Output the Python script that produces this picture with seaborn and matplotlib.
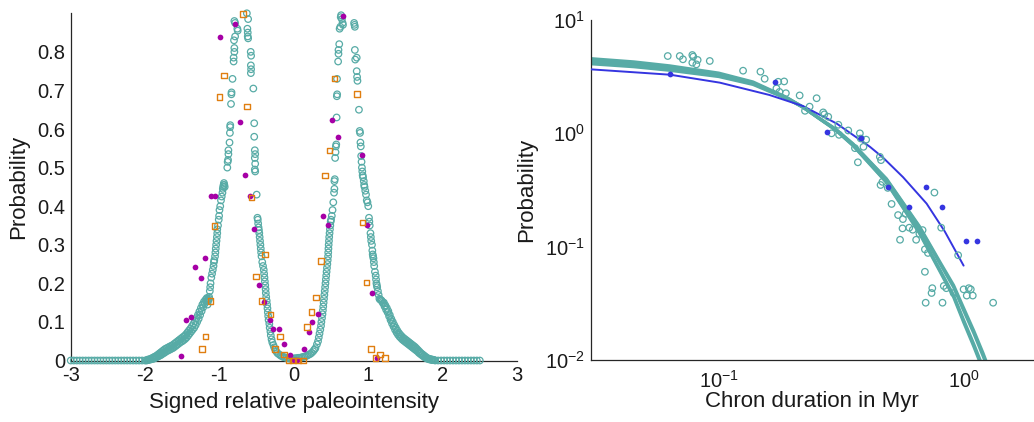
import numpy as np
import matplotlib
matplotlib.use("Agg")
import matplotlib.pyplot as plt
import seaborn as sns
import pandas as pd

# ---------------- Colours ----------------
TEAL = "#57aba6"
PURPLE = "#a600a6"
ORANGE = "#e07e10"
BLUE = "#3535e0"

# ---------------- Left panel data ----------------
tail_left_x = [-3.00, -2.96, -2.92, -2.88, -2.84, -2.80, -2.76, -2.72, -2.68, -2.64, -2.60, -2.56, -2.52,
               -2.48, -2.44, -2.40, -2.36, -2.32, -2.28, -2.24, -2.20, -2.16, -2.12, -2.08, -2.04, -2.00]
tail_left_y = [0.0] * 26

rise_left = [(-1.98, 0.000), (-1.96, 0.001), (-1.94, 0.002), (-1.92, 0.003), (-1.90, 0.004), (-1.88, 0.005),
             (-1.86, 0.007), (-1.84, 0.009), (-1.82, 0.011), (-1.80, 0.013), (-1.78, 0.015), (-1.76, 0.018),
             (-1.74, 0.020), (-1.72, 0.023), (-1.70, 0.025), (-1.68, 0.027), (-1.66, 0.029), (-1.64, 0.031),
             (-1.62, 0.033), (-1.60, 0.036), (-1.58, 0.039), (-1.56, 0.042), (-1.54, 0.045), (-1.52, 0.048),
             (-1.50, 0.050), (-1.48, 0.053), (-1.46, 0.056), (-1.44, 0.060), (-1.42, 0.065), (-1.40, 0.070),
             (-1.38, 0.075), (-1.36, 0.080), (-1.34, 0.085), (-1.32, 0.092), (-1.30, 0.100), (-1.28, 0.108),
             (-1.26, 0.118), (-1.24, 0.128), (-1.22, 0.138), (-1.20, 0.147), (-1.18, 0.153), (-1.16, 0.157),
             (-1.17, 0.160), (-1.15, 0.155), (-1.16, 0.145), (-1.14, 0.160)]

rise_left_b = [(-1.97, 0.002), (-1.95, 0.003), (-1.93, 0.004), (-1.91, 0.006), (-1.89, 0.008), (-1.87, 0.010),
               (-1.85, 0.012), (-1.83, 0.015), (-1.81, 0.018), (-1.79, 0.021), (-1.77, 0.024), (-1.75, 0.027),
               (-1.73, 0.030), (-1.71, 0.032), (-1.69, 0.034), (-1.67, 0.036), (-1.65, 0.038), (-1.63, 0.040),
               (-1.61, 0.043), (-1.59, 0.046), (-1.57, 0.049), (-1.55, 0.052), (-1.53, 0.055), (-1.51, 0.058),
               (-1.49, 0.061), (-1.47, 0.064), (-1.45, 0.068), (-1.43, 0.073), (-1.41, 0.078), (-1.39, 0.083),
               (-1.37, 0.089), (-1.35, 0.095), (-1.33, 0.102), (-1.31, 0.110), (-1.29, 0.118), (-1.27, 0.127),
               (-1.25, 0.136), (-1.23, 0.145), (-1.21, 0.152), (-1.19, 0.157), (-1.17, 0.162)]

peak1_left = [(-1.14, 0.165), (-1.13, 0.18), (-1.125, 0.19), (-1.12, 0.20), (-1.11, 0.215), (-1.10, 0.225),
              (-1.09, 0.235), (-1.08, 0.245), (-1.075, 0.255), (-1.07, 0.26), (-1.06, 0.27), (-1.055, 0.28),
              (-1.05, 0.29), (-1.045, 0.30), (-1.04, 0.31), (-1.035, 0.32), (-1.03, 0.33), (-1.03, 0.34),
              (-1.02, 0.35), (-1.01, 0.365), (-1.005, 0.375), (-1.0, 0.39), (-0.99, 0.40), (-0.98, 0.415),
              (-0.97, 0.425), (-0.96, 0.435), (-0.955, 0.445), (-0.95, 0.45), (-0.945, 0.455), (-0.94, 0.46),
              (-0.935, 0.455), (-0.93, 0.45), (-0.895, 0.50), (-0.89, 0.515), (-0.885, 0.52), (-0.88, 0.535),
              (-0.88, 0.545), (-0.865, 0.565), (-0.86, 0.59), (-0.856, 0.605), (-0.855, 0.61), (-0.845, 0.665),
              (-0.84, 0.69), (-0.838, 0.695), (-0.825, 0.73), (-0.81, 0.775), (-0.81, 0.785), (-0.80, 0.80),
              (-0.80, 0.81), (-0.805, 0.83), (-0.79, 0.84), (-0.755, 0.855), (-0.76, 0.86), (-0.80, 0.88),
              (-0.79, 0.875)]

peak1_right = [(-0.632, 0.90), (-0.615, 0.885), (-0.625, 0.86), (-0.62, 0.85), (-0.62, 0.84), (-0.615, 0.835),
               (-0.58, 0.80), (-0.575, 0.79), (-0.578, 0.765), (-0.575, 0.755), (-0.578, 0.745), (-0.545, 0.705),
               (-0.533, 0.615), (-0.533, 0.58), (-0.525, 0.545), (-0.52, 0.535), (-0.525, 0.525), (-0.52, 0.51),
               (-0.525, 0.495), (-0.52, 0.49), (-0.50, 0.43), (-0.49, 0.37), (-0.485, 0.365), (-0.48, 0.355),
               (-0.475, 0.345), (-0.47, 0.338), (-0.465, 0.33), (-0.46, 0.32), (-0.455, 0.31), (-0.45, 0.30),
               (-0.445, 0.29), (-0.44, 0.28), (-0.435, 0.27), (-0.425, 0.255), (-0.415, 0.245), (-0.405, 0.235),
               (-0.40, 0.225), (-0.395, 0.215), (-0.39, 0.205), (-0.385, 0.195), (-0.38, 0.185), (-0.377, 0.175),
               (-0.372, 0.165), (-0.365, 0.155), (-0.36, 0.145), (-0.355, 0.135), (-0.35, 0.125), (-0.345, 0.115),
               (-0.34, 0.105), (-0.33, 0.095), (-0.325, 0.085), (-0.315, 0.075), (-0.31, 0.065), (-0.30, 0.055),
               (-0.29, 0.047), (-0.275, 0.040), (-0.265, 0.034), (-0.25, 0.028), (-0.235, 0.023), (-0.22, 0.019),
               (-0.20, 0.016), (-0.18, 0.013), (-0.16, 0.011), (-0.14, 0.009), (-0.12, 0.008), (-0.10, 0.007),
               (-0.08, 0.006), (-0.06, 0.005), (-0.04, 0.005), (-0.02, 0.005), (0.0, 0.005), (0.02, 0.006),
               (0.04, 0.006), (0.06, 0.007), (0.08, 0.007), (0.10, 0.008), (0.12, 0.009), (0.14, 0.010),
               (0.16, 0.011), (0.18, 0.013), (0.20, 0.015), (0.22, 0.017), (0.24, 0.020), (0.26, 0.024),
               (0.275, 0.028)]

peak2_left = [(0.29, 0.032), (0.31, 0.042), (0.325, 0.05), (0.335, 0.06), (0.345, 0.07), (0.355, 0.08),
              (0.365, 0.09), (0.37, 0.10), (0.378, 0.11), (0.385, 0.12), (0.39, 0.13), (0.395, 0.14),
              (0.40, 0.15), (0.405, 0.16), (0.41, 0.17), (0.415, 0.18), (0.42, 0.19), (0.425, 0.20),
              (0.43, 0.21), (0.435, 0.22), (0.44, 0.23), (0.445, 0.24), (0.45, 0.25), (0.455, 0.26),
              (0.46, 0.27), (0.462, 0.28), (0.465, 0.29), (0.468, 0.30), (0.472, 0.31), (0.475, 0.32),
              (0.48, 0.33), (0.485, 0.34), (0.49, 0.35), (0.495, 0.36), (0.50, 0.365), (0.51, 0.375),
              (0.52, 0.39), (0.53, 0.41), (0.54, 0.435), (0.545, 0.445), (0.545, 0.465), (0.55, 0.47),
              (0.555, 0.525), (0.56, 0.54), (0.565, 0.555), (0.57, 0.56), (0.575, 0.63), (0.578, 0.685),
              (0.582, 0.69), (0.58, 0.73), (0.595, 0.775), (0.60, 0.795), (0.60, 0.805), (0.61, 0.82),
              (0.615, 0.86), (0.625, 0.865), (0.63, 0.89), (0.635, 0.895), (0.645, 0.885), (0.655, 0.875),
              (0.66, 0.87)]

peak2_right = [(0.81, 0.875), (0.815, 0.87), (0.82, 0.865), (0.82, 0.805), (0.825, 0.78), (0.845, 0.785),
               (0.845, 0.75), (0.85, 0.735), (0.855, 0.725), (0.875, 0.65), (0.885, 0.595), (0.89, 0.59),
               (0.895, 0.565), (0.90, 0.555), (0.905, 0.53), (0.91, 0.515), (0.915, 0.50), (0.92, 0.49),
               (0.925, 0.48), (0.93, 0.475), (0.94, 0.465), (0.945, 0.455), (0.95, 0.45), (0.96, 0.44),
               (0.97, 0.43), (0.98, 0.415), (0.99, 0.41), (1.00, 0.40), (1.01, 0.37), (1.015, 0.36),
               (1.02, 0.35), (1.03, 0.33), (1.035, 0.32), (1.04, 0.31), (1.05, 0.30), (1.055, 0.285),
               (1.06, 0.275), (1.065, 0.27), (1.07, 0.265), (1.075, 0.255), (1.08, 0.245), (1.09, 0.23),
               (1.10, 0.22), (1.105, 0.21), (1.11, 0.20), (1.115, 0.195), (1.12, 0.19), (1.13, 0.18),
               (1.14, 0.17), (1.15, 0.16), (1.16, 0.158), (1.17, 0.157), (1.18, 0.155), (1.19, 0.152),
               (1.20, 0.148)]

fall_right = [(1.22, 0.140), (1.24, 0.132), (1.26, 0.125), (1.28, 0.115), (1.30, 0.105), (1.32, 0.096),
              (1.34, 0.088), (1.36, 0.080), (1.38, 0.073), (1.40, 0.067), (1.42, 0.062), (1.44, 0.058),
              (1.46, 0.054), (1.48, 0.051), (1.50, 0.048), (1.52, 0.045), (1.54, 0.042), (1.56, 0.039),
              (1.58, 0.036), (1.60, 0.033), (1.62, 0.030), (1.64, 0.027), (1.66, 0.024), (1.68, 0.020),
              (1.70, 0.017), (1.72, 0.014), (1.74, 0.011), (1.76, 0.008), (1.78, 0.006), (1.80, 0.004),
              (1.82, 0.003), (1.84, 0.002), (1.86, 0.001), (1.88, 0.001), (1.90, 0.0)]

fall_right_b = [(1.21, 0.150), (1.23, 0.143), (1.25, 0.136), (1.27, 0.128), (1.29, 0.118), (1.31, 0.108),
                (1.33, 0.100), (1.35, 0.092), (1.37, 0.085), (1.39, 0.078), (1.41, 0.072), (1.43, 0.067),
                (1.45, 0.063), (1.47, 0.059), (1.49, 0.056), (1.51, 0.053), (1.53, 0.050), (1.55, 0.047),
                (1.57, 0.044), (1.59, 0.041), (1.61, 0.038), (1.63, 0.035), (1.65, 0.031), (1.67, 0.027),
                (1.69, 0.023), (1.71, 0.019), (1.73, 0.016), (1.75, 0.013), (1.77, 0.010), (1.79, 0.007),
                (1.81, 0.005), (1.83, 0.004), (1.85, 0.003), (1.87, 0.002), (1.89, 0.001)]

tail_right_x = [1.94, 1.98, 2.02, 2.06, 2.10, 2.14, 2.18, 2.22, 2.26, 2.30, 2.34, 2.38, 2.42, 2.46, 2.50]
tail_right_y = [0.0] * 15

purple_pts = [(-0.99, 0.838), (-0.794, 0.871), (-0.73, 0.617), (-0.66, 0.48), (-1.117, 0.427), (-1.058, 0.427),
              (-0.587, 0.427), (-0.533, 0.34), (-1.19, 0.267), (-1.323, 0.242), (-1.25, 0.213), (-0.466, 0.197),
              (-0.40, 0.151), (-1.45, 0.106), (-1.377, 0.112), (-0.327, 0.106), (-0.274, 0.081), (-0.206, 0.081),
              (-0.135, 0.044), (-1.516, 0.012), (-0.058, 0.013), (-0.004, 0.001), (0.04, 0.001), (0.13, 0.029),
              (0.197, 0.074), (0.25, 0.10), (0.323, 0.12), (0.39, 0.374), (0.462, 0.35), (0.51, 0.624),
              (0.587, 0.579), (0.655, 0.892), (0.915, 0.533), (0.99, 0.35), (1.045, 0.174), (1.117, 0.007)]

orange_pts = [(-0.686, 0.898), (-0.937, 0.739), (-0.996, 0.683), (-0.632, 0.659), (-0.57, 0.422), (-1.067, 0.349),
              (-0.386, 0.274), (-0.507, 0.217), (-0.435, 0.154), (-1.117, 0.154), (-0.314, 0.119), (-1.184, 0.063),
              (-1.237, 0.030), (-0.188, 0.063), (-0.256, 0.030), (-0.135, 0.016), (-0.076, 0.0), (-0.01, 0.0),
              (0.058, 0.0), (0.121, 0.0), (0.175, 0.087), (0.238, 0.126), (0.296, 0.163), (0.363, 0.258),
              (0.417, 0.48), (0.475, 0.544), (0.543, 0.731), (0.847, 0.691), (0.924, 0.358), (0.978, 0.202),
              (1.036, 0.030), (1.10, 0.007), (1.16, 0.016), (1.224, 0.007)]

xticks_left = [-3, -2, -1, 0, 1, 2, 3]
yticks_left = [0, 0.1, 0.2, 0.3, 0.4, 0.5, 0.6, 0.7, 0.8]
ytick_labels_left = ["0", "0.1", "0.2", "0.3", "0.4", "0.5", "0.6", "0.7", "0.8"]

# ---------------- Right panel data ----------------
chron_circles = [(0.0619, 4.81), (0.0693, 4.81), (0.0714, 4.5), (0.078, 4.91), (0.0787, 4.75), (0.078, 4.2),
                 (0.081, 4.06), (0.082, 4.44), (0.0919, 4.35), (0.1257, 3.57), (0.148, 3.5), (0.154, 3.03),
                 (0.172, 2.49), (0.175, 2.85), (0.185, 2.87), (0.177, 2.32), (0.188, 2.26), (0.214, 2.16),
                 (0.251, 2.04), (0.235, 1.72), (0.225, 1.58), (0.267, 1.53), (0.27, 1.47), (0.28, 1.40),
                 (0.308, 1.19), (0.289, 1.0), (0.31, 0.97), (0.338, 1.06), (0.377, 1.0), (0.38, 0.90),
                 (0.40, 0.88), (0.36, 0.74), (0.37, 0.555), (0.39, 0.76), (0.455, 0.62), (0.46, 0.58),
                 (0.458, 0.35), (0.466, 0.373), (0.49, 0.33), (0.508, 0.238), (0.54, 0.19), (0.565, 0.175),
                 (0.58, 0.195), (0.55, 0.115), (0.563, 0.145), (0.60, 0.147), (0.62, 0.141), (0.64, 0.115),
                 (0.66, 0.13), (0.695, 0.0946), (0.695, 0.06), (0.70, 0.032), (0.74, 0.039), (0.745, 0.043),
                 (0.76, 0.30), (0.81, 0.147), (0.82, 0.032), (0.83, 0.045), (0.85, 0.043), (0.95, 0.084),
                 (1.0, 0.042), (1.05, 0.043), (1.07, 0.042), (1.03, 0.037), (1.09, 0.037), (1.32, 0.032),
                 (0.91, 0.039), (0.68, 0.14), (0.715, 0.088)]

chron_dots = [(0.0633, 3.34), (0.170, 2.86), (0.277, 1.03), (0.382, 0.916), (0.491, 0.339), (0.596, 0.225),
              (0.701, 0.339), (0.813, 0.225), (1.026, 0.112), (1.13, 0.112)]

blue_fit_x = [0.030, 0.0633, 0.101, 0.161, 0.221, 0.303, 0.414, 0.469, 0.566, 0.706, 0.838, 1.0]
blue_fit_y = [3.67, 3.29, 2.80, 2.18, 1.74, 1.22, 0.762, 0.61, 0.41, 0.24, 0.136, 0.068]

teal_fit_x = [0.03, 0.045, 0.063, 0.1, 0.138, 0.189, 0.221, 0.258, 0.30, 0.354, 0.42, 0.484, 0.57, 0.66,
              0.8, 0.91, 1.0, 1.1, 1.2, 1.3, 1.4]
teal_fit_1 = [4.56, 4.27, 3.94, 3.40, 2.84, 2.08, 1.70, 1.343, 1.069, 0.778, 0.517, 0.369, 0.215, 0.1316,
              0.0607, 0.036, 0.0216, 0.0132, 0.0082, 0.0051, 0.0031]
teal_fit_2 = [4.41, 4.15, 3.825, 3.32, 2.79, 2.06, 1.70, 1.347, 1.075, 0.782, 0.522, 0.372, 0.218, 0.134,
              0.0624, 0.0372, 0.0225, 0.0138, 0.0086, 0.0054, 0.0033]
teal_fit_3 = [4.21, 3.97, 3.69, 3.24, 2.75, 2.05, 1.70, 1.35, 1.085, 0.798, 0.541, 0.391, 0.235, 0.148,
              0.0713, 0.044, 0.0274, 0.0173, 0.0109, 0.0070, 0.0043]
teal_fit_4 = [4.11, 3.87, 3.60, 3.17, 2.70, 2.03, 1.70, 1.353, 1.091, 0.806, 0.546, 0.397, 0.2385, 0.151,
              0.0733, 0.0456, 0.0287, 0.0181, 0.0115, 0.0073, 0.0046]

# ---------------- Build frames ----------------
def pairs_to_df(pairs):
    return pd.DataFrame(pairs, columns=["x", "y"])

teal_left = pd.concat([
    pd.DataFrame({"x": tail_left_x, "y": tail_left_y}),
    pairs_to_df(rise_left), pairs_to_df(rise_left_b), pairs_to_df(peak1_left), pairs_to_df(peak1_right),
    pairs_to_df(peak2_left), pairs_to_df(peak2_right), pairs_to_df(fall_right), pairs_to_df(fall_right_b),
    pd.DataFrame({"x": tail_right_x, "y": tail_right_y}),
], ignore_index=True)
purple_df = pairs_to_df(purple_pts)
orange_df = pairs_to_df(orange_pts)
circ_df = pairs_to_df(chron_circles)
dots_df = pairs_to_df(chron_dots)

# ---------------- Style ----------------
sns.set_theme(style="white")
plt.rcParams["font.family"] = ["Liberation Sans", "DejaVu Sans"]
plt.rcParams["mathtext.fontset"] = "custom"
plt.rcParams["mathtext.rm"] = "Liberation Sans"
plt.rcParams["mathtext.it"] = "Liberation Sans:italic"
plt.rcParams["mathtext.bf"] = "Liberation Sans:bold"
plt.rcParams["axes.unicode_minus"] = False
plt.rcParams["xtick.direction"] = "in"
plt.rcParams["ytick.direction"] = "in"

AX_COLOR = "#262626"
TXT_COLOR = "#1a1a1a"
fig = plt.figure(figsize=(10.34, 4.22), dpi=100)
ax1 = fig.add_axes([0.0684, 0.1457, 0.4316, 0.8228])
ax2 = fig.add_axes([0.5713, 0.1470, 0.4277, 0.8056])

# Left panel
sns.scatterplot(data=teal_left, x="x", y="y", ax=ax1, marker="o", s=22, facecolors="none",
                edgecolor=TEAL, linewidth=0.9, clip_on=False, zorder=3)
sns.scatterplot(data=purple_df, x="x", y="y", ax=ax1, marker="o", s=17, color=PURPLE,
                edgecolor=PURPLE, linewidth=0, clip_on=False, zorder=4)
sns.scatterplot(data=orange_df, x="x", y="y", ax=ax1, marker="s", s=15, facecolors="none",
                edgecolor=ORANGE, linewidth=1.0, clip_on=False, zorder=4)
ax1.set_xlim(-3, 3)
ax1.set_ylim(0, 0.9)
ax1.set_xticks(xticks_left)
ax1.set_xticklabels([str(t) for t in xticks_left])
ax1.set_yticks(yticks_left)
ax1.set_yticklabels(ytick_labels_left)
ax1.set_xlabel("Signed relative paleointensity", fontsize=16, labelpad=5)
ax1.set_ylabel("Probability", fontsize=16, labelpad=6)

# Right panel
for yy in [teal_fit_1, teal_fit_2, teal_fit_3, teal_fit_4]:
    sns.lineplot(x=teal_fit_x, y=yy, ax=ax2, color=TEAL, linewidth=2.3, sort=False, estimator=None, zorder=2)
sns.lineplot(x=blue_fit_x, y=blue_fit_y, ax=ax2, color=BLUE, linewidth=1.4, sort=False, estimator=None, zorder=3)
sns.scatterplot(data=circ_df, x="x", y="y", ax=ax2, marker="o", s=22, facecolors="none",
                edgecolor=TEAL, linewidth=0.9, zorder=4)
sns.scatterplot(data=dots_df, x="x", y="y", ax=ax2, marker="o", s=17, color=BLUE,
                edgecolor=BLUE, linewidth=0, zorder=5)
ax2.set_xscale("log")
ax2.set_yscale("log")
ax2.set_xlim(0.03, 1.92)
ax2.set_ylim(0.01, 10)
ax2.set_xlabel("Chron duration in Myr", fontsize=16, labelpad=-1)
ax2.set_ylabel("Probability", fontsize=16, labelpad=6)

for ax in (ax1, ax2):
    for side in ("top", "right"):
        ax.spines[side].set_visible(False)
    for side in ("left", "bottom"):
        ax.spines[side].set_color(AX_COLOR)
        ax.spines[side].set_linewidth(0.9)
    ax.tick_params(axis="both", which="major", direction="in", length=4, width=0.8,
                   colors=AX_COLOR, labelsize=14.5, labelcolor=TXT_COLOR, pad=4)
    ax.tick_params(axis="both", which="minor", direction="in", length=2.5, width=0.7, colors=AX_COLOR)
    ax.xaxis.label.set_color(TXT_COLOR)
    ax.yaxis.label.set_color(TXT_COLOR)

ax1.tick_params(axis="both", which="minor", length=0)
ax2.tick_params(axis="x", which="major", pad=7.5)

fig.savefig("out.png", dpi=100)
